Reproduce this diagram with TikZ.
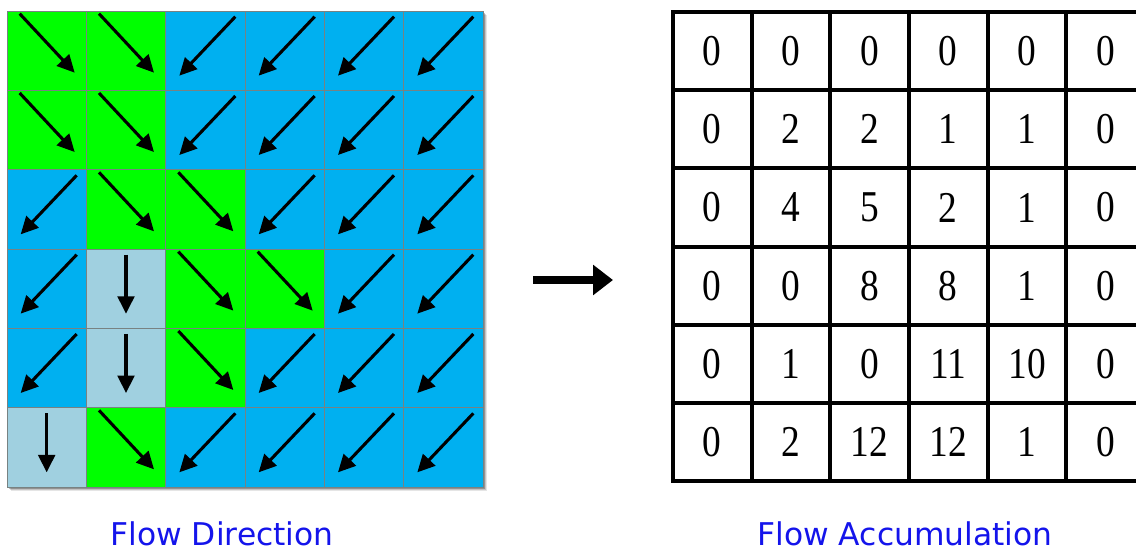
\documentclass[tikz,border=0pt]{standalone}
\usepackage{fontspec}
\usetikzlibrary{arrows.meta}
\newfontfamily\labelfont{DejaVu Sans}
\newfontfamily\numfont{Liberation Serif}
\definecolor{slopegreen}{RGB}{0,255,0}
\definecolor{slopeblue}{RGB}{0,176,240}
\definecolor{flatblue}{RGB}{160,208,224}
\definecolor{captionblue}{RGB}{20,20,235}
\definecolor{cellline}{RGB}{120,130,130}

\begin{document}
\begin{tikzpicture}[x=0.75pt,y=-0.75pt,
  dircell/.style={draw=cellline,line width=0.6pt,inner sep=0pt,
    minimum width=59.5pt,minimum height=59.5pt},
  flowarrow/.style={line width=2.3pt,-{Triangle[length=13pt,width=12.5pt]}},
  acccell/.style={draw=black,line width=3pt,inner sep=0pt,
    minimum width=59pt,minimum height=58.65pt,
    font=\numfont\fontsize{33}{36}\selectfont},
  caption/.style={text=captionblue,font=\labelfont\fontsize{23.5}{28}\selectfont,
    anchor=base,inner sep=0pt,text depth=0pt}]
\useasboundingbox (0,0) rectangle (1136,550);

% soft shadow behind the flow direction grid
\foreach \o/\op in {4/0.10,3/0.15,2/0.25}
  \fill[black,opacity=\op] (7+\o,11+\o) rectangle (483+\o,487+\o);

% flow direction grid: 1 = south-east, 2 = south-west, 3 = south
\foreach \r/\dirs in {0/{1,1,2,2,2,2},1/{1,1,2,2,2,2},2/{2,1,1,2,2,2},
                      3/{2,3,1,1,2,2},4/{2,3,1,2,2,2},5/{3,1,2,2,2,2}}{
  \foreach \d [count=\c from 0] in \dirs {
    \ifcase\d\or
      \def\fc{slopegreen}\def\sa{-27,-37}\def\ea{28,22}\or
      \def\fc{slopeblue}\def\sa{30,-34}\def\ea{-26,25}\or
      \def\fc{flatblue}\def\sa{0,-34}\def\ea{0,25}\fi
    \node[dircell,fill=\fc] (fd-\r-\c) at (7+39.67+79.33*\c,11+39.67+79.33*\r) {};
    \draw[flowarrow] ([shift={(\sa)}]fd-\r-\c.center) -- ([shift={(\ea)}]fd-\r-\c.center);
  }
}

% flow accumulation grid, its last column running past the right edge
\begin{scope}
\clip (0,0) rectangle (1136,550);
\foreach \r/\vals in {0/{0,0,0,0,0,0},1/{0,2,2,1,1,0},2/{0,4,5,2,1,0},
                      3/{0,0,8,8,1,0},4/{0,1,0,11,10,0},5/{0,2,12,12,1,0}}{
  \foreach \v [count=\c from 0] in \vals {
    \node[acccell] (fa-\r-\c) at (673+39.33+78.67*\c,12+39.1+78.2*\r)
      {\scalebox{0.85}[1]{\v}};
  }
}
\end{scope}

% transformation arrow
\coordinate (convfrom) at (533,280);
\coordinate (convto) at (613,280);
\draw[line width=6pt,-{Triangle[length=15pt,width=22pt]}] (convfrom) -- (convto);

% captions
\node[caption] (fdcap) at (222,545) {Flow Direction};
\node[caption] (facap) at (905,545) {Flow Accumulation};
\end{tikzpicture}
\end{document}
